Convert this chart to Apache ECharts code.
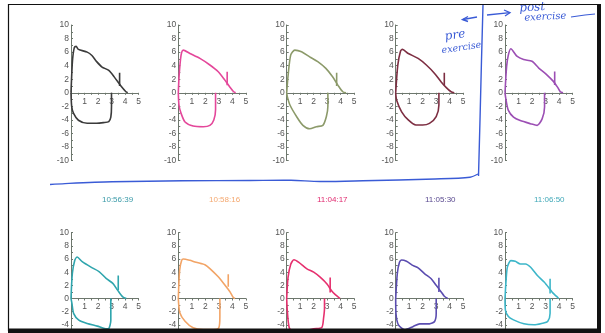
<!DOCTYPE html>
<html><head><meta charset="utf-8">
<script src="https://cdn.jsdelivr.net/npm/echarts@6/dist/echarts.min.js"></script>
<style>html,body{margin:0;padding:0;background:#fff}#c{width:605px;height:333px}</style>
</head><body><div id="c"></div>
<script>
// ---- data (volume L, flow L/s) ----
const xTicks = [0,1,2,3,4,5];
const yTicksUpper = [0,2,4,6,8,10];
const yTicksLower = [-10,-8,-6,-4,-2,0];
const timeLabels = ['10:56:39','10:58:16','11:04:17','11:05:30','11:06:50'];

const topExp1 = [[0,0],[0.05,2.5],[0.12,5],[0.25,6.7],[0.38,6.85],[0.55,6.4],[1.2,6.0],[1.55,5.5],[1.9,4.6],[2.3,3.8],[2.8,3.3],[3.2,2.35],[3.7,1.0],[4.05,0.2],[4.2,0]];
const topInsp1 = [[3.0,0],[3.0,-2],[2.95,-3.6],[2.8,-4.25],[2.4,-4.4],[1.9,-4.5],[1.2,-4.5],[0.55,-4.05],[0.18,-3.0],[0.05,-2.0],[0,0]];
const topMark1 = [[3.6,1.0],[3.6,2.95]];

const topExp2 = [[0,0],[0.06,2.5],[0.2,5.5],[0.37,6.3],[0.86,5.8],[1.6,5.07],[2.34,4.1],[2.96,3.1],[3.45,1.87],[3.8,0.9],[4.1,0.15],[4.25,0]];
const topInsp2 = [[2.76,0],[2.76,-2.5],[2.63,-4.0],[2.34,-4.8],[1.85,-5.0],[1.1,-4.9],[0.5,-4.3],[0.2,-3.0],[0.05,-1.8],[0,0]];
const topMark2 = [[3.62,1.1],[3.62,3.1]];

const topExp3 = [[0,0],[0.1,2.5],[0.3,5.6],[0.6,6.3],[1.1,6.05],[1.7,5.3],[2.3,4.6],[2.9,3.6],[3.4,2.36],[3.8,1.1],[4.15,0.15],[4.4,0]];
const topInsp3 = [[3.05,0],[3.05,-2.0],[2.94,-3.5],[2.68,-4.8],[2.2,-5.0],[1.7,-5.3],[1.2,-4.8],[0.73,-3.5],[0.24,-1.8],[0.05,-0.6],[0,0]];
const topMark3 = [[3.7,1.0],[3.7,2.95]];

const topExp4 = [[0,0],[0.15,4],[0.35,6.1],[0.5,6.4],[0.93,5.8],[1.66,5.07],[2.27,4.1],[2.88,2.86],[3.37,1.6],[3.73,0.8],[4.1,0.15],[4.34,0]];
const topInsp4 = [[3.2,0],[3.2,-1.8],[3.0,-3.5],[2.5,-4.5],[2.0,-4.75],[1.5,-4.75],[0.93,-4.0],[0.44,-2.8],[0.07,-1.1],[0,0]];
const topMark4 = [[3.6,1.1],[3.6,2.95]];

const topExp5 = [[0,0],[0.12,3.9],[0.25,5.6],[0.43,6.5],[0.88,5.4],[1.38,4.9],[2.0,4.65],[2.5,3.65],[3.1,2.65],[3.6,1.65],[3.9,0.8],[4.1,0.15],[4.3,0]];
const topInsp5 = [[2.93,0],[2.93,-2.1],[2.75,-3.85],[2.38,-4.8],[1.88,-4.55],[1.13,-4.1],[0.63,-3.6],[0.25,-2.6],[0.08,-1.1],[0,0]];
const topMark5 = [[3.68,1.15],[3.68,3.15]];

const botExp1 = [[0,0],[0.1,3.8],[0.28,5.8],[0.45,6.3],[0.83,5.6],[1.45,4.8],[2.1,4.06],[2.6,3.05],[3.1,2.3],[3.45,1.27],[3.83,0.25],[4.1,0]];
const botInsp1 = [[2.95,0],[2.95,-3.3],[2.8,-4.55],[2.58,-4.6],[1.95,-4.2],[1.2,-3.8],[0.58,-3.3],[0.2,-2.3],[0.07,-0.76],[0,0]];
const botMark1 = [[3.5,1.3],[3.5,3.5]];

const botExp2 = [[0,0],[0.1,4.3],[0.25,5.8],[0.37,6.0],[0.86,5.8],[1.23,5.55],[1.7,5.3],[2.0,5.1],[2.34,4.55],[2.96,3.3],[3.45,2.05],[3.82,1.05],[4.06,0.2],[4.2,0]];
const botInsp2 = [[3.08,0],[3.08,-2.7],[3.0,-4.45],[2.6,-4.7],[1.85,-4.7],[1.1,-4.45],[0.5,-3.45],[0.12,-2.2],[0,0]];
const botMark2 = [[3.7,1.8],[3.7,3.7]];

const botExp3 = [[0,0],[0.1,3.2],[0.3,5.2],[0.54,5.9],[0.9,5.5],[1.5,4.5],[2.0,4.0],[2.5,3.2],[3.0,2.16],[3.34,1.13],[3.58,0.62],[3.83,0.2],[3.95,0]];
const botInsp3 = [[2.8,0],[2.8,-1.4],[2.73,-3.0],[2.6,-4.4],[2.0,-4.6],[1.27,-4.95],[0.6,-5.2],[0.2,-4.5],[0.05,-2.0],[0,0]];
const botMark3 = [[3.22,0.9],[3.22,3.2]];

const botExp4 = [[0,0],[0.12,3.8],[0.28,5.5],[0.44,5.85],[0.8,5.65],[1.3,5.0],[1.66,4.65],[2.15,3.75],[2.63,3.0],[3.0,2.0],[3.37,1.0],[3.6,0.35],[3.85,0]];
const botInsp4 = [[3.0,0],[3.0,-2.25],[2.88,-3.5],[2.5,-3.85],[1.78,-3.85],[1.3,-4.25],[0.68,-4.75],[0.2,-4.0],[0.02,-2.25],[0,0]];
const botMark4 = [[3.2,1.0],[3.2,3.15]];

const botExp5 = [[0,0],[0.08,2.8],[0.18,4.8],[0.43,5.75],[0.76,5.65],[1.14,5.25],[1.52,5.25],[1.9,4.75],[2.4,3.5],[2.9,2.5],[3.3,1.5],[3.54,0.85],[3.8,0.35],[3.97,0]];
const botInsp5 = [[3.34,0],[3.34,-2.25],[3.16,-3.5],[2.78,-3.75],[2.15,-4.0],[1.4,-3.85],[0.63,-3.25],[0.25,-2.75],[0.03,-1.75],[0,0]];
const botMark5 = [[3.34,0.75],[3.34,3.0]];

// ---- layout / style ----
const panels = [
  [topExp1, topInsp1, topMark1], [topExp2, topInsp2, topMark2], [topExp3, topInsp3, topMark3],
  [topExp4, topInsp4, topMark4], [topExp5, topInsp5, topMark5],
  [botExp1, botInsp1, botMark1], [botExp2, botInsp2, botMark2], [botExp3, botInsp3, botMark3],
  [botExp4, botInsp4, botMark4], [botExp5, botInsp5, botMark5]
];
const colors = ['#3b3b3b','#e4479a','#8c9a6a','#7d2e42','#9c4fb4','#2fa5ad','#f2a466','#e6306e','#5b4db0','#3db6c9'];
const labelColors = ['#3a9aa8','#f4a870','#e0286e','#5a4a90','#40a8b8'];
const colLeft = [71, 178.3, 286.7, 395.7, 505];
const colW = 67.5;
const rowZero = [92.8, 298.5], rowHalf = [67.8, 65.8];
const labelX = [102, 209, 317, 425, 534];
const axisColor = '#6d776d';

const grids = [], xAxes = [], yAxes = [], series = [];
panels.forEach((p, i) => {
  const r = i < 5 ? 0 : 1, c = i % 5;
  const gU = grids.length, gL = gU + 1;
  grids.push({left: colLeft[c], top: rowZero[r] - rowHalf[r], width: colW, height: rowHalf[r], outerBoundsMode: 'none', containLabel: false});
  grids.push({left: colLeft[c], top: rowZero[r], width: colW, height: rowHalf[r], outerBoundsMode: 'none', containLabel: false});
  // upper grid: x axis at its bottom edge == flow 0
  xAxes.push({type: 'value', gridIndex: gU, position: 'bottom', min: xTicks[0], max: xTicks[xTicks.length-1], interval: 1,
    axisLine: {onZero: false, lineStyle: {color: axisColor, width: 1}},
    axisTick: {show: true, length: 2, lineStyle: {color: axisColor}},
    minorTick: {show: true, splitNumber: 2, length: 2, lineStyle: {color: axisColor}},
    splitLine: {show: false},
    axisLabel: {fontSize: 8.5, color: '#555', margin: 4, fontFamily: 'Liberation Sans',
      formatter: v => v === 0 ? '' : String(v)}});
  xAxes.push({type: 'value', gridIndex: gL, min: xTicks[0], max: xTicks[xTicks.length-1], show: false});
  const yCommon = {
    axisLine: {show: true, onZero: false, lineStyle: {color: axisColor, width: 1}},
    axisTick: {show: true, inside: true, length: 2, lineStyle: {color: axisColor}},
    minorTick: {show: true, splitNumber: 2, length: 2, lineStyle: {color: axisColor}},
    splitLine: {show: false}};
  yAxes.push(Object.assign({type: 'value', gridIndex: gU, min: yTicksUpper[0], max: yTicksUpper[yTicksUpper.length-1], interval: 2,
    axisLabel: {fontSize: 8.5, color: '#555', margin: 2, fontFamily: 'Liberation Sans'}}, yCommon));
  yAxes.push(Object.assign({type: 'value', gridIndex: gL, min: yTicksLower[0], max: yTicksLower[yTicksLower.length-1], interval: 2,
    axisLabel: {fontSize: 8.5, color: '#555', margin: 2, fontFamily: 'Liberation Sans', formatter: v => v === 0 ? '' : String(v)}}, yCommon));
  const base = {type: 'line', showSymbol: false, symbol: 'none', clip: false, animation: false,
    lineStyle: {color: colors[i], width: 1.6}};
  series.push(Object.assign({}, base, {xAxisIndex: gU, yAxisIndex: gU, data: p[0], smooth: 0.25}));
  series.push(Object.assign({}, base, {xAxisIndex: gL, yAxisIndex: gL, data: p[1], smooth: 0.25}));
  series.push(Object.assign({}, base, {xAxisIndex: gU, yAxisIndex: gU, data: p[2], smooth: false}));
});

const blue = '#3a5bd6';
const graphic = [];
timeLabels.forEach((t, i) => {
  graphic.push({type: 'text', left: labelX[i], top: 196, z: 100,
    style: {text: t, fill: labelColors[i], font: '8px "Liberation Sans"', textAlign: 'center'}});
});
// frame
graphic.push({type: 'rect', z: 200, shape: {x: 8.5, y: 4.5, width: 590.5, height: 326}, style: {fill: 'none', stroke: '#111', lineWidth: 1.2}});
graphic.push({type: 'rect', z: 200, shape: {x: 597, y: 4, width: 4, height: 329}, style: {fill: '#111'}});
graphic.push({type: 'rect', z: 200, shape: {x: 8, y: 328.5, width: 593, height: 5}, style: {fill: '#111'}});
// blue hand annotations
graphic.push({type: 'polyline', z: 150, shape: {smooth: 0.3, points: [[50,184.5],[65,183.6],[112,181.8],[183,180.8],[250,180.5],[291,180.3],[320,181.5],[363,180.8],[435,179],[470,177.2],[478,174]]}, style: {stroke: blue, lineWidth: 1.4, fill: 'none'}});
graphic.push({type: 'polyline', z: 150, shape: {points: [[478.5,176],[480,120],[481.5,60],[483,5]]}, style: {stroke: blue, lineWidth: 1.4, fill: 'none'}});
graphic.push({type: 'polyline', z: 150, shape: {points: [[477,17],[463,19.5]]}, style: {stroke: blue, lineWidth: 1.4, fill: 'none'}});
graphic.push({type: 'polyline', z: 150, shape: {points: [[468,16.5],[462.5,19.5],[468,21.5]]}, style: {stroke: blue, lineWidth: 1.4, fill: 'none'}});
graphic.push({type: 'polyline', z: 150, shape: {points: [[487,15],[510,12.7]]}, style: {stroke: blue, lineWidth: 1.3, fill: 'none'}});
graphic.push({type: 'polyline', z: 150, shape: {points: [[504,10],[510,12.7],[505,16]]}, style: {stroke: blue, lineWidth: 1.3, fill: 'none'}});
graphic.push({type: 'text', z: 150, left: 519, top: 1, rotation: 0.05, style: {text: 'post', fill: blue, font: 'italic 12px "DejaVu Serif"'}});
graphic.push({type: 'text', z: 150, left: 524, top: 11, rotation: 0.05, style: {text: 'exercise', fill: blue, font: 'italic 10px "DejaVu Serif"'}});
graphic.push({type: 'polyline', z: 150, shape: {points: [[571,17],[585,15],[595,14]]}, style: {stroke: blue, lineWidth: 1.2, fill: 'none'}});
graphic.push({type: 'text', z: 150, left: 444, top: 28, rotation: 0.15, style: {text: 'pre', fill: blue, font: 'italic 12px "DejaVu Serif"'}});
graphic.push({type: 'text', z: 150, left: 441, top: 40, rotation: 0.15, style: {text: 'exercise', fill: blue, font: 'italic 9.5px "DejaVu Serif"'}});

const chart = echarts.init(document.getElementById('c'), null, {renderer: 'canvas'});
chart.setOption({animation: false, backgroundColor: '#fff', grid: grids, xAxis: xAxes, yAxis: yAxes, series: series, graphic: graphic});
</script></body></html>
